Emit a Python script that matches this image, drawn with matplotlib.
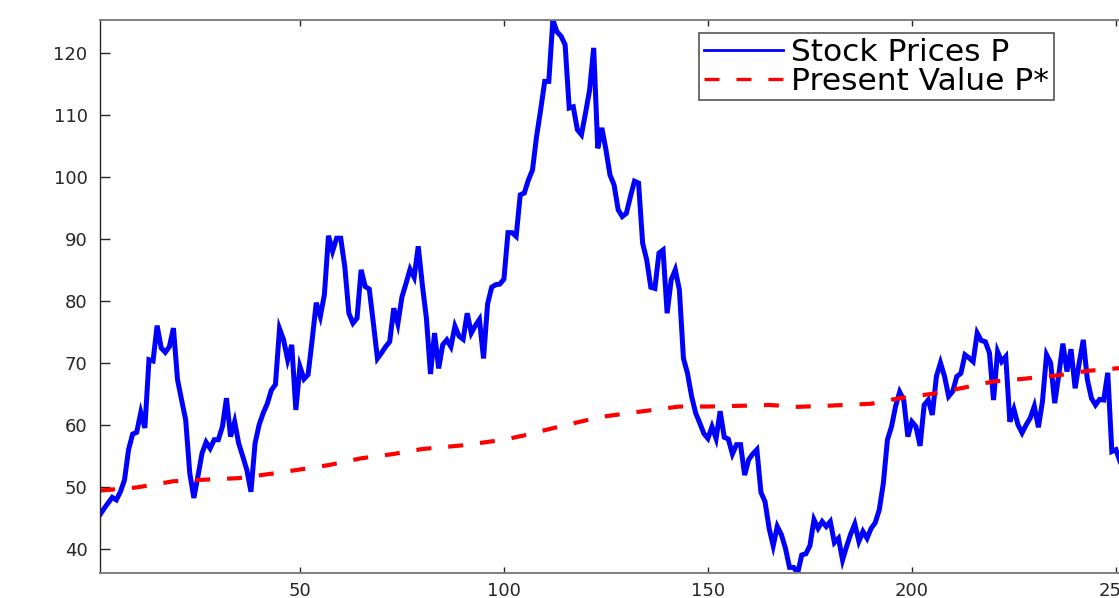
import matplotlib
matplotlib.use("Agg")
import matplotlib.pyplot as plt
from matplotlib.lines import Line2D

# Stock prices P, one value per period starting at period 1
stock_prices = [
    45.5, 46.5, 47.4, 48.3, 47.9, 49.2, 51.1, 56.0, 58.5, 58.8,
    62.0, 59.5, 70.5, 70.3, 76.0, 72.4, 71.7, 72.6, 75.6, 67.3,
    64.0, 60.8, 52.2, 48.2, 51.7, 55.4, 57.2, 56.2, 57.6, 57.6,
    59.7, 64.3, 58.1, 60.5, 57.0, 54.9, 52.7, 49.2, 57.0, 60.0,
    61.9, 63.4, 65.6, 66.5, 75.5, 73.7, 70.5, 72.9, 62.4, 69.4,
    67.4, 68.1, 73.7, 79.7, 77.5, 81.0, 90.5, 88.0, 90.1, 90.1,
    85.5, 78.0, 76.4, 77.2, 85.0, 82.3, 81.9, 76.4, 70.7, 71.6,
    72.6, 73.4, 78.8, 76.3, 80.6, 82.8, 85.1, 83.8, 88.8, 82.6,
    77.2, 68.2, 74.8, 69.1, 72.9, 73.7, 72.6, 75.9, 74.3, 73.8,
    78.0, 74.8, 76.0, 77.0, 70.7, 79.5, 82.2, 82.6, 82.7, 83.5,
    91.0, 91.0, 90.4, 97.1, 97.4, 99.5, 101.1, 106.5, 110.8, 115.4,
    115.4, 125.3, 123.4, 122.7, 121.3, 111.1, 111.3, 107.6, 106.8, 110.3,
    114.0, 120.8, 104.6, 107.9, 104.4, 100.3, 98.7, 94.7, 93.6, 94.1,
    96.8, 99.3, 99.0, 89.3, 86.6, 82.2, 82.0, 87.7, 88.2, 78.0,
    83.4, 85.0, 81.8, 70.7, 68.3, 64.6, 61.9, 60.3, 58.6, 57.8,
    59.7, 57.8, 62.2, 58.0, 57.7, 55.3, 56.8, 56.8, 51.9, 54.4,
    55.3, 56.0, 49.1, 47.6, 43.3, 40.5, 43.6, 42.3, 40.1, 37.0,
    37.0, 36.1, 39.0, 39.2, 40.5, 44.7, 43.3, 44.4, 43.6, 44.4,
    41.0, 41.7, 38.2, 40.4, 42.4, 44.0, 41.2, 42.8, 41.7, 43.3,
    44.2, 46.3, 50.6, 57.6, 59.7, 63.0, 65.3, 64.0, 58.1, 60.5,
    59.7, 56.6, 63.2, 64.0, 61.6, 67.8, 70.0, 67.8, 64.6, 65.4,
    67.8, 68.3, 71.3, 70.8, 70.2, 74.8, 73.6, 73.4, 71.6, 64.0,
    71.8, 70.2, 71.0, 60.5, 62.5, 60.0, 58.7, 60.0, 61.1, 63.0,
    59.6, 63.8, 71.3, 70.0, 63.5, 68.1, 73.1, 68.6, 72.2, 65.9,
    70.0, 73.7, 67.3, 64.3, 63.2, 64.1, 64.0, 68.4, 55.7, 56.0,
    54.1,
]
periods = list(range(1, len(stock_prices) + 1))

# Present value P* (smooth series, sampled periods)
pv_periods = [1, 10, 19, 25, 35, 44, 48, 57, 65, 73, 80, 90, 100, 105, 111,
              118, 124, 133, 143, 150, 160, 165, 172, 180, 190, 197, 205,
              212, 220, 227, 236, 243, 250, 260]
present_value = [49.4, 49.9, 50.9, 51.1, 51.4, 52.2, 52.6, 53.5, 54.6, 55.3,
                 56.1, 56.7, 57.6, 58.3, 59.3, 60.4, 61.3, 62.1, 62.95, 62.95,
                 63.1, 63.2, 62.9, 63.1, 63.4, 64.3, 65.0, 65.9, 67.0, 67.4,
                 68.0, 68.7, 69.1, 69.5]

x_ticks = [50, 100, 150, 200, 250]
y_ticks = [40, 50, 60, 70, 80, 90, 100, 110, 120]
series_labels = ["Stock Prices P", "Present Value P*"]

plt.rcParams["font.family"] = ["DejaVu Sans"]
plt.rcParams["lines.scale_dashes"] = False

W, H, DPI = 1119, 598, 100
fig = plt.figure(figsize=(W / DPI, H / DPI), dpi=DPI)
fig.patch.set_facecolor("white")

x_end = 260
px_per_unit = 4.08
ax_left, ax_bottom, ax_top = 100, 25, 578
ax_width = (x_end - 1) * px_per_unit
ax = fig.add_axes([ax_left / W, ax_bottom / H, ax_width / W, (ax_top - ax_bottom) / H])

dash = (10.8, 12.2)
ax.plot(periods, stock_prices, color=(0, 0, 1), lw=3.6, solid_joinstyle="miter")
ax.plot(pv_periods, present_value, color=(1, 0, 0), lw=3.0, dashes=dash)

ax.set_xlim(1, x_end)
ax.set_ylim(min(stock_prices), max(stock_prices))
ax.set_xticks(x_ticks)
ax.set_yticks(y_ticks)

tick_color = "#262626"
ax.tick_params(axis="both", direction="in", top=True, right=True,
               colors=tick_color, labelsize=13, width=1.0)
ax.tick_params(axis="y", length=7, pad=9)
ax.tick_params(axis="x", length=4.5, pad=6.5)
ax.spines["left"].set_color("#262626")
ax.spines["left"].set_linewidth(1.0)
for side in ("top", "bottom", "right"):
    ax.spines[side].set_color("#7f7f7f")
    ax.spines[side].set_linewidth(1.4)

handles = [
    Line2D([], [], color=(0, 0, 1), lw=2.0),
    Line2D([], [], color=(1, 0, 0), lw=2.4, dashes=dash),
]
leg = fig.legend(handles, series_labels, loc="upper left",
                 bbox_to_anchor=(699 / W, 1 - 33 / H), borderaxespad=0,
                 fontsize=22.5, handlelength=2.55, handletextpad=0.25,
                 borderpad=0.15, labelspacing=0.0, fancybox=False,
                 framealpha=1, edgecolor="#555555")
leg.get_frame().set_linewidth(1.2)

fig.savefig("out.png", dpi=DPI, facecolor="white")
